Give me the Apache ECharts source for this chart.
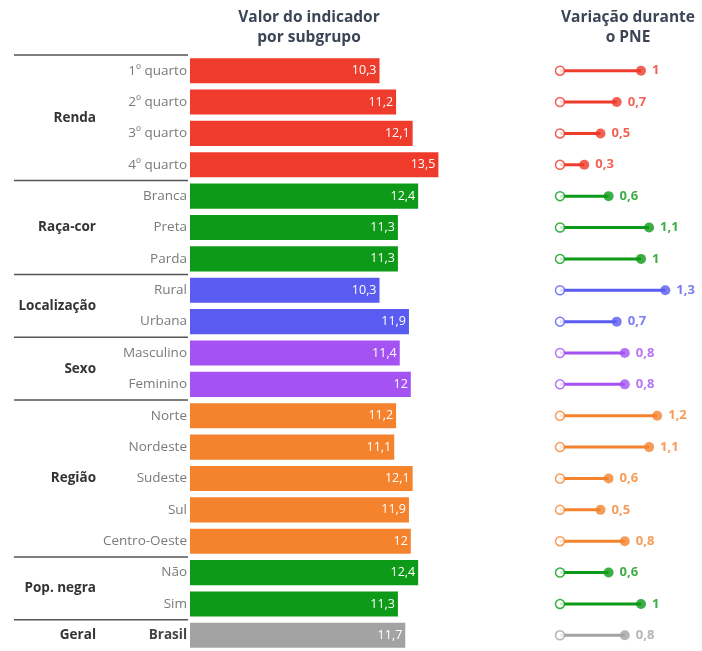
<!DOCTYPE html>
<html>
<head>
<meta charset="utf-8">
<script src="https://cdn.jsdelivr.net/npm/echarts@6/dist/echarts.min.js"></script>
<style>html,body{margin:0;padding:0;background:#fff}#c{width:702px;height:651px}</style>
</head>
<body>
<div id="c"></div>
<script>
const categories = ['1º quarto','2º quarto','3º quarto','4º quarto','Branca','Preta','Parda','Rural','Urbana','Masculino','Feminino','Norte','Nordeste','Sudeste','Sul','Centro-Oeste','Não','Sim','Brasil'];
const indicatorValues = [10.3,11.2,12.1,13.5,12.4,11.3,11.3,10.3,11.9,11.4,12,11.2,11.1,12.1,11.9,12,12.4,11.3,11.7];
const variationValues = [1,0.7,0.5,0.3,0.6,1.1,1,1.3,0.7,0.8,0.8,1.2,1.1,0.6,0.5,0.8,0.6,1,0.8];
const groupNames = ['Renda','Raça-cor','Localização','Sexo','Região','Pop. negra','Geral'];
const groupSizes = [4,3,2,2,5,2,1];
const groupColors = ['#ee3b2b','#0d9a18','#5a5bf0','#a452f2','#f5832e','#0d9a18','#a3a3a3'];
const titleLeft = ['Valor do indicador','por subgrupo'];
const titleRight = ['Variação durante','o PNE'];

const FONT = '"Open Sans", sans-serif';
const groupStart = [];
const rowColor = [];
groupSizes.reduce((acc, n, gi) => { groupStart.push(acc); for (let k = 0; k < n; k++) rowColor.push(groupColors[gi]); return acc + n; }, 0);
const fmt = v => String(v).replace('.', ',');

const chart = echarts.init(document.getElementById('c'));
const top0 = 55, rowH = 31.4, H = rowH * categories.length;

chart.setOption({
  animation: false,
  textStyle: { fontFamily: FONT },
  graphic: [
    { type: 'text', x: 309, y: 8, style: { text: titleLeft.join('\n'), textAlign: 'center', fill: '#3b4556', font: 'bold 15.5px ' + FONT, lineHeight: 20 } },
    { type: 'text', x: 628, y: 8, style: { text: titleRight.join('\n'), textAlign: 'center', fill: '#3b4556', font: 'bold 15.5px ' + FONT, lineHeight: 20 } }
  ],
  grid: [
    { left: 190, top: top0, width: 14 * 18.4, height: H, containLabel: false },
    { left: 560, top: top0, width: 1.5 * 81, height: H, containLabel: false }
  ],
  xAxis: [
    { gridIndex: 0, type: 'value', min: 0, max: 14, show: false },
    { gridIndex: 1, type: 'value', min: 0, max: 1.5, show: false }
  ],
  yAxis: [
    { gridIndex: 0, type: 'category', data: categories, inverse: true,
      axisLine: { show: false }, axisTick: { show: false }, splitLine: { show: false },
      axisLabel: { margin: 3, fontSize: 13.5, color: '#7a7a7a', fontFamily: FONT,
        formatter: v => v === 'Brasil' ? '{b|' + v + '}' : v,
        rich: { b: { fontWeight: 'bold', color: '#444', fontSize: 13.5, fontFamily: FONT } } } },
    { gridIndex: 1, type: 'category', data: categories, inverse: true, show: false }
  ],
  series: [
    { type: 'bar', xAxisIndex: 0, yAxisIndex: 0, barWidth: '80%',
      data: indicatorValues.map((v, i) => ({ value: v, itemStyle: { color: rowColor[i] } })),
      label: { show: true, position: 'insideRight', distance: 3, color: '#fff', fontSize: 12.5, fontFamily: FONT, formatter: p => fmt(p.value) } },
    { type: 'custom', xAxisIndex: 0, yAxisIndex: 0, clip: false, silent: true,
      data: groupNames.map((g, i) => [0, groupStart[i], groupSizes[i]]),
      encode: { x: 0, y: 1 },
      renderItem: (params, api) => {
        const gi = params.dataIndex;
        const start = api.value(1), n = api.value(2);
        const p = api.coord([0, start]);
        const band = api.size([0, 1])[1];
        const yTop = p[1] - band / 2;
        const yMid = yTop + band * n / 2;
        const x0 = p[0];
        return { type: 'group', children: [
          { type: 'line', shape: { x1: x0 - 176, y1: yTop, x2: x0 - 2, y2: yTop }, style: { stroke: '#555', lineWidth: 1.5 } },
          { type: 'text', style: { text: groupNames[gi], x: x0 - 94, y: yMid, textAlign: 'right', verticalAlign: 'middle', textVerticalAlign: 'middle', fill: '#333', font: 'bold 13.5px ' + FONT } }
        ] };
      } },
    { type: 'bar', xAxisIndex: 1, yAxisIndex: 1, barWidth: 3,
      data: variationValues.map((v, i) => ({ value: v, itemStyle: { color: rowColor[i] } })) },
    { type: 'scatter', xAxisIndex: 1, yAxisIndex: 1, symbol: 'circle', symbolSize: 9, z: 3,
      data: variationValues.map((v, i) => ({ value: [0, i], itemStyle: { color: '#fff', borderColor: rowColor[i], borderWidth: 1.5 } })) },
    { type: 'scatter', xAxisIndex: 1, yAxisIndex: 1, symbol: 'circle', symbolSize: 10, z: 3,
      data: variationValues.map((v, i) => ({ value: [v, i], itemStyle: { color: rowColor[i] },
        label: { show: true, position: 'right', distance: 6, color: rowColor[i], fontWeight: 'bold', fontSize: 13, fontFamily: FONT, formatter: () => fmt(v) } })) }
  ]
});
</script>
</body>
</html>
